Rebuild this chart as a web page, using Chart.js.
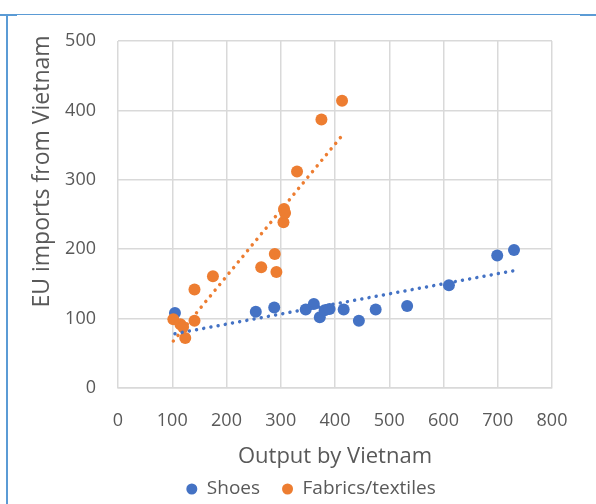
<!DOCTYPE html>
<html>
<head>
<meta charset="utf-8">
<script src="https://cdn.jsdelivr.net/npm/chart.js@4.4.1/dist/chart.umd.min.js"></script>
<style>
  html, body { margin: 0; padding: 0; background: #ffffff; }
  #wrap { position: relative; width: 596px; height: 504px; overflow: hidden; }
  #c { position: absolute; left: 0; top: 0; }
  .frame { position: absolute; background: #5B9BD5; }
</style>
</head>
<body>
<div id="wrap">
  <canvas id="c" width="596" height="504"></canvas>
  <div class="frame" style="left:0;top:14px;width:596px;height:1px;"></div>
  <div class="frame" style="left:0;top:14px;width:17px;height:2px;"></div>
  <div class="frame" style="left:580px;top:14px;width:16px;height:2px;"></div>
  <div class="frame" style="left:6px;top:14px;width:2px;height:490px;"></div>
</div>
<script>
// ---- Data ----
const seriesNames = ["Shoes", "Fabrics/textiles"];
const shoesOutput  = [105, 254, 288, 346, 361, 372, 381, 390, 416, 444, 475, 533, 610, 699, 730];
const shoesImports = [108, 110, 116, 113, 121, 102, 112, 114, 113,  97, 113, 118, 148, 191, 199];
const fabricOutput  = [102, 115, 120, 124, 141, 141, 175, 264, 289, 292, 305, 306, 308, 330, 375, 413];
const fabricImports = [ 99,  92,  88,  72,  97, 142, 161, 174, 193, 167, 239, 258, 252, 312, 387, 414];
const xTicks = [0, 100, 200, 300, 400, 500, 600, 700, 800];
const yTicks = [0, 100, 200, 300, 400, 500];
const xTitle = "Output by Vietnam";
const yTitle = "EU imports from Vietnam";

const BLUE = "#4472C4";
const ORANGE = "#ED7D31";
const GRID = "#D9D9D9";
const TEXT = "#595959";
const FONT = "'Open Sans', 'Liberation Sans', sans-serif";

function toPoints(xs, ys) { return xs.map((x, i) => ({ x: x, y: ys[i] })); }

// least-squares linear trendline from the data arrays
function trend(xs, ys) {
  const n = xs.length;
  const mx = xs.reduce((a, b) => a + b, 0) / n;
  const my = ys.reduce((a, b) => a + b, 0) / n;
  let sxy = 0, sxx = 0;
  for (let i = 0; i < n; i++) { sxy += (xs[i] - mx) * (ys[i] - my); sxx += (xs[i] - mx) * (xs[i] - mx); }
  const b = sxy / sxx, a = my - b * mx;
  const x0 = Math.min(...xs), x1 = Math.max(...xs);
  return [{ x: x0, y: a + b * x0 }, { x: x1, y: a + b * x1 }];
}

const dottedLine = (label, color, pts) => ({
  type: "line",
  label: label,
  data: pts,
  borderColor: color,
  borderWidth: 3.5,
  borderDash: [0.01, 7.3],
  borderCapStyle: "round",
  pointRadius: 0,
  fill: false,
  showLine: true,
  order: 0,
  isTrend: true
});

// widen the y-axis box to the left after layout so its labels are not clipped,
// and move the axis title's centre the way the reference has it
const yAxisBox = {
  id: "yAxisBox",
  afterLayout(chart) {
    const y = chart.scales.y;
    y.left = 20;
    y.width = y.right - y.left;
    y.top = chart.chartArea.top - 86;
  }
};

new Chart(document.getElementById("c"), {
  type: "scatter",
  data: {
    datasets: [
      {
        label: seriesNames[0],
        data: toPoints(shoesOutput, shoesImports),
        backgroundColor: BLUE,
        borderColor: BLUE,
        borderWidth: 0,
        pointRadius: 6,
        pointHoverRadius: 6,
        order: 2
      },
      {
        label: seriesNames[1],
        data: toPoints(fabricOutput, fabricImports),
        backgroundColor: ORANGE,
        borderColor: ORANGE,
        borderWidth: 0,
        pointRadius: 6,
        pointHoverRadius: 6,
        order: 1
      },
      dottedLine("trend1", BLUE, trend(shoesOutput, shoesImports)),
      dottedLine("trend2", ORANGE, trend(fabricOutput, fabricImports))
    ]
  },
  plugins: [yAxisBox],
  options: {
    responsive: false,
    animation: false,
    events: [],
    layout: { padding: { left: 70, right: 44, top: 41, bottom: -4.5 } },
    plugins: {
      tooltip: { enabled: false },
      legend: {
        position: "bottom",
        labels: {
          filter: (item, data) => !data.datasets[item.datasetIndex].isTrend,
          sort: (a, b) => a.datasetIndex - b.datasetIndex,
          usePointStyle: true,
          pointStyle: "circle",
          pointStyleWidth: 11,
          boxHeight: 7.8,
          padding: 22,
          color: TEXT,
          font: { family: FONT, size: 19 }
        }
      }
    },
    scales: {
      x: {
        type: "linear",
        min: xTicks[0],
        max: xTicks[xTicks.length - 1],
        afterBuildTicks: (s) => { s.ticks = xTicks.map(v => ({ value: v })); },
        afterFit: (s) => { s.height = 69.5; },
        grid: { color: GRID, lineWidth: 1.5, drawTicks: false },
        border: { color: GRID, width: 1.5 },
        ticks: { padding: 22, color: TEXT, font: { family: FONT, size: 18 } },
        title: {
          display: true,
          text: xTitle,
          color: TEXT,
          font: { family: FONT, size: 22 },
          padding: { top: 0, bottom: -12.7 }
        }
      },
      y: {
        type: "linear",
        min: yTicks[0],
        max: yTicks[yTicks.length - 1],
        afterBuildTicks: (s) => { s.ticks = yTicks.map(v => ({ value: v })); },
        afterFit: (s) => { s.width = 48; },
        grid: { color: GRID, lineWidth: 1.5, drawTicks: false },
        border: { display: false },
        ticks: { padding: 22, color: TEXT, font: { family: FONT, size: 18 } },
        title: {
          display: true,
          text: yTitle,
          color: TEXT,
          font: { family: FONT, size: 23 },
          padding: { top: 8.2, bottom: 0 }
        }
      }
    }
  }
});
</script>
</body>
</html>
